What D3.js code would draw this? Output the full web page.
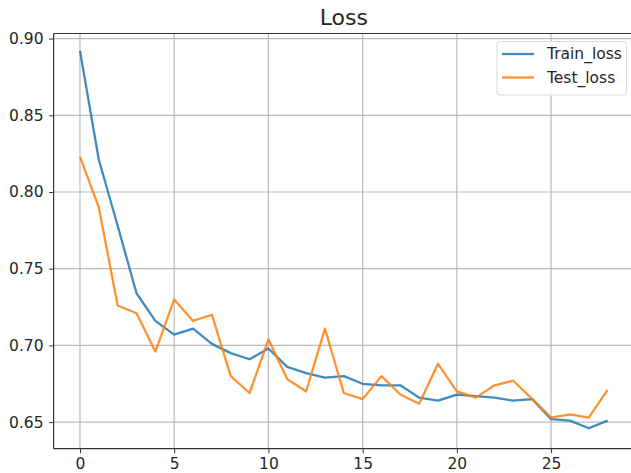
<!DOCTYPE html>
<html>
<head>
<meta charset="utf-8">
<script src="https://cdn.jsdelivr.net/npm/d3@7"></script>
<style>
  html, body { margin: 0; padding: 0; background: #fff; }
  svg { display: block; }
  text { font-family: "DejaVu Sans", sans-serif; fill: #262626; }
</style>
</head>
<body>
<script>
// ---- data ----
const epochs = d3.range(0, 29);
const trainLoss = [0.892, 0.821, 0.778, 0.734, 0.716, 0.707, 0.711, 0.701, 0.695, 0.691,
                   0.698, 0.686, 0.682, 0.679, 0.680, 0.675, 0.674, 0.674, 0.666, 0.664,
                   0.668, 0.667, 0.666, 0.664, 0.665, 0.652, 0.651, 0.646, 0.651];
const testLoss  = [0.823, 0.790, 0.726, 0.721, 0.696, 0.730, 0.716, 0.720, 0.680, 0.669,
                   0.704, 0.678, 0.670, 0.711, 0.669, 0.665, 0.680, 0.668, 0.662, 0.688,
                   0.670, 0.666, 0.674, 0.677, 0.665, 0.653, 0.655, 0.653, 0.671];
const xTicks = [0, 5, 10, 15, 20, 25];
const yTicks = [0.65, 0.70, 0.75, 0.80, 0.85, 0.90];
const seriesNames = ["Train_loss", "Test_loss"];
const seriesColors = ["#1f77b4", "#ff7f0e"];
const chartTitle = "Loss";

(function () {
  // ---- layout ----
  const W = 631, H = 473;
  const pL = 53.6, pR = 634, pT = 33.5, pB = 448.7;

  const svg = d3.select("body").append("svg").attr("width", W).attr("height", H);

  const x = d3.scaleLinear().domain([-1.4, 29.4]).range([pL, pR]);
  const y = d3.scaleLinear().domain([0.6327, 0.9033]).range([pB, pT]);

  // grid
  const grid = svg.append("g");
  grid.selectAll("line.gx").data(xTicks).join("line").attr("class", "gx")
    .attr("x1", d => x(d)).attr("x2", d => x(d))
    .attr("y1", pT).attr("y2", pB)
    .attr("stroke", "#b0b0b0").attr("stroke-width", 1.2).attr("opacity", 0.85);
  grid.selectAll("line.gy").data(yTicks).join("line").attr("class", "gy")
    .attr("y1", d => y(d)).attr("y2", d => y(d))
    .attr("x1", pL).attr("x2", pR)
    .attr("stroke", "#b0b0b0").attr("stroke-width", 1.2).attr("opacity", 0.85);

  // lines
  const line = d3.line().x((d, i) => x(epochs[i])).y(d => y(d));
  [trainLoss, testLoss].forEach((s, k) => {
    svg.append("path").datum(s)
      .attr("d", line)
      .attr("fill", "none")
      .attr("stroke", seriesColors[k])
      .attr("stroke-width", 2.3)
      .attr("opacity", 0.85)
      .attr("stroke-linejoin", "round");
  });

  // axes
  const xAxis = d3.axisBottom(x).tickValues(xTicks).tickFormat(d3.format("d"))
    .tickSizeOuter(0).tickSize(4.5).tickPadding(5);
  const yAxis = d3.axisLeft(y).tickValues(yTicks).tickFormat(d3.format(".2f"))
    .tickSizeOuter(0).tickSize(4.5).tickPadding(5.5);

  const gx = svg.append("g").attr("transform", `translate(0,${pB})`).call(xAxis);
  const gy = svg.append("g").attr("transform", `translate(${pL},0)`).call(yAxis);
  [gx, gy].forEach(g => {
    g.select(".domain").remove();
    g.selectAll(".tick line").attr("stroke", "#333").attr("stroke-width", 1);
    g.selectAll(".tick text").attr("font-size", 15.5).attr("fill", "#262626")
      .style("font-family", "'DejaVu Sans', sans-serif");
  });

  // spines
  const spine = (x1, y1, x2, y2) => svg.append("line")
    .attr("x1", x1).attr("y1", y1).attr("x2", x2).attr("y2", y2)
    .attr("stroke", "#333").attr("stroke-width", 1.2);
  spine(pL, pT, pL, pB);
  spine(pL, pB, pR, pB);
  spine(pL, pT, pR, pT);
  spine(pR, pT, pR, pB);

  // title
  svg.append("text").attr("x", (pL + pR) / 2).attr("y", 25)
    .attr("text-anchor", "middle").attr("font-size", 22).text(chartTitle);

  // legend
  const lg = svg.append("g");
  lg.append("rect").attr("x", 497).attr("y", 41.5).attr("width", 129.5).attr("height", 53.5)
    .attr("rx", 3).attr("fill", "#fff").attr("fill-opacity", 0.85)
    .attr("stroke", "#d9d9d9").attr("stroke-width", 1);
  seriesNames.forEach((n, i) => {
    const cy = 54 + i * 23.5;
    lg.append("line").attr("x1", 502).attr("x2", 534).attr("y1", cy).attr("y2", cy)
      .attr("stroke", seriesColors[i]).attr("stroke-width", 2.3).attr("opacity", 0.85);
    lg.append("text").attr("x", 547).attr("y", cy).attr("dy", "0.35em")
      .attr("font-size", 15.5).text(n);
  });
})();
</script>
</body>
</html>
